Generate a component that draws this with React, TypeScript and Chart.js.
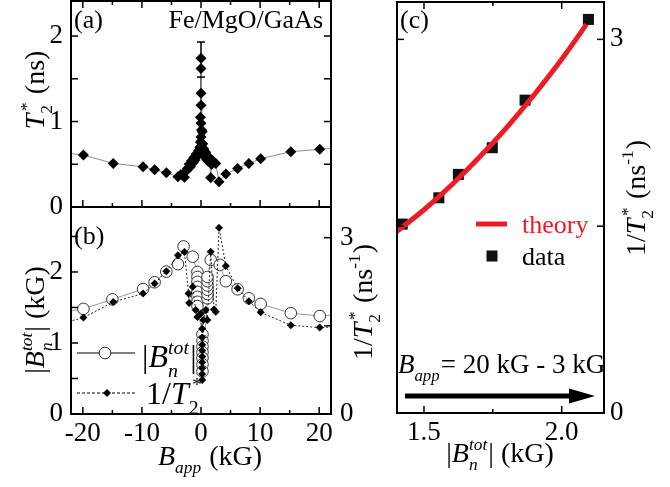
import React, { useEffect, useRef } from 'react';
import { Chart, registerables } from 'chart.js';
Chart.register(...registerables);

const SERIF = '"Liberation Serif", "Times New Roman", serif';
const RED = '#ed1c24';

// ---------------- panel (a): T2* vs B_app ----------------
const aField = [-25, -19.9, -14.85, -9.8, -7.85, -5.86, -3.9, -3.4, -2.8, -2.5, -2.3, -2.0, -1.8, -1.6, -1.3, -1.2, -1.0, -0.8, -0.6, -0.4, -0.2, 0, 0.1, -0.1, 0, 0.1, 0, -0.1, 0, 0, 0, 0, 0.2, 0.3, 0.4, 0.5, 0.7, 0.8, 1.0, 1.1, 1.3, 1.4, 1.64, 1.8, 2.0, 2.5, 3.05, 4.2, 6.2, 8.1, 10.1, 15.2, 20.1, 25];
const aT2 = [0.65, 0.608, 0.51, 0.47, 0.436, 0.40, 0.355, 0.38, 0.347, 0.42, 0.45, 0.50, 0.47, 0.54, 0.52, 0.58, 0.55, 0.62, 0.60, 0.66, 0.70, 0.65, 0.71, 0.76, 0.82, 0.90, 0.98, 1.05, 1.19, 1.33, 1.62, 1.74, 0.88, 0.74, 0.62, 0.68, 0.58, 0.64, 0.55, 0.60, 0.53, 0.57, 0.343, 0.50, 0.54, 0.51, 0.296, 0.386, 0.45, 0.51, 0.565, 0.647, 0.675, 0.70];
const aErrField = [0, 0];
const aErrT2 = [1.93, 1.0];
const aCapField = [0, 0];
const aCapT2 = [1.93, 1.52];

// ---------------- panel (b): |Bn tot| and 1/T2* vs B_app ----------------
const bBnField = [-25, -19.9, -15, -9.8, -7.85, -5.87, -3.9, -2.95, -1.4, -0.6, -0.6, -0.6, -0.6, -0.6, -0.6, -0.6, -0.6, 0.25, 0.25, 0.25, 0.25, 0.25, 0.25, 0.25, 1.1, 1.1, 1.1, 1.1, 1.1, 1.1, 1.64, 3.17, 4.2, 6.2, 8.1, 10.1, 15.2, 20.1, 25];
const bBn = [1.42, 1.48, 1.615, 1.76, 1.855, 2.005, 2.11, 2.36, 2.215, 2.0, 1.93, 1.86, 1.79, 1.72, 1.65, 1.58, 1.52, 1.12, 1.03, 0.95, 0.87, 0.79, 0.70, 0.60, 1.63, 1.69, 1.75, 1.81, 1.87, 1.93, 2.17, 2.10, 1.87, 1.756, 1.63, 1.55, 1.42, 1.38, 1.41];
const bInvField = [-25, -19.9, -14.85, -9.8, -7.85, -5.86, -3.9, -2.8, -2.1, -2.0, -1.4, -0.9, -0.6, 0, 0.2, 0.2, 0.2, 0.2, 0.2, 0.2, 0.2, 0.2, 0.2, 0.4, 0.8, 1.08, 1.64, 2.2, 2.5, 3.05, 4.2, 6.2, 8.1, 10.1, 15.2, 20.1, 25];
const bInv = [1.50, 1.64, 1.905, 2.05, 2.22, 2.43, 2.70, 2.755, 2.05, 1.89, 2.165, 1.77, 1.65, 1.71, 1.45, 1.30, 1.18, 1.08, 0.98, 0.88, 0.78, 0.68, 0.58, 1.60, 1.77, 1.60, 2.76, 1.78, 1.74, 3.17, 2.52, 2.14, 1.92, 1.73, 1.51, 1.47, 1.49];

// ---------------- panel (c): 1/T2* vs |Bn tot| ----------------
const cBn = [1.421, 1.554, 1.625, 1.748, 1.867, 2.097];
const cInv = [1.517, 1.728, 1.916, 2.13, 2.512, 3.16];
const cTheoryBn = [1.40, 1.50, 1.60, 1.70, 1.80, 1.90, 2.00, 2.09];
const cTheory = [1.455, 1.632, 1.831, 2.051, 2.292, 2.555, 2.840, 3.12];
const cArrowBn = [1.431, 2.121];
const cArrowY = 0.136;

// ---------------- ticks ----------------
const abXTicks = [-20, -15, -10, -5, 0, 5, 10, 15, 20];
const abXLabels = ['-20', '', '-10', '', '0', '', '10', '', '20'];
const abXMajor = [-20, -10, 0, 10, 20];
const aYTicks = [0, 0.5, 1, 1.5, 2];
const aYLabels = ['0', '', '1', '', '2'];
const bYTicks = [0, 0.5, 1, 1.5, 2, 2.5];
const bYLabels = ['0', '', '1', '', '2', ''];
const bY2Ticks = [0, 1.5, 3];
const bY2Labels = ['0', '', '3'];
const cXTicks = [1.5, 1.75, 2.0];
const cXLabels = ['1.5', '', '2.0'];
const cXMajor = [1.5, 2.0];
const cYTicks = [0, 1.5, 3];
const cYLabels = ['0', '', '3'];

const pts = (xs: number[], ys: number[]) => xs.map((x, i) => ({ x, y: ys[i] }));

// ---------------- rich text ----------------
type Seg = { t?: string; it?: boolean; sup?: string; sub?: string; dx?: number };
type RT = { x: number; y: number; size: number; segs: Seg[]; align?: 'left' | 'center' | 'right'; rot?: number; color?: string };
const fnt = (s: number, it?: boolean) => `${it ? 'italic ' : ''}${s}px ${SERIF}`;

function drawRT(ctx: CanvasRenderingContext2D, r: RT) {
  const size = r.size;
  const ss = size * 0.62;
  ctx.save();
  ctx.translate(r.x, r.y);
  if (r.rot) ctx.rotate(r.rot);
  ctx.fillStyle = r.color || '#000';
  ctx.textBaseline = 'alphabetic';
  ctx.textAlign = 'left';
  const widths = r.segs.map((s) => {
    if (s.t !== undefined) {
      ctx.font = fnt(size, s.it);
      return ctx.measureText(s.t).width;
    }
    let w = 0;
    if (s.sup) {
      ctx.font = fnt(ss, s.it);
      w = Math.max(w, ctx.measureText(s.sup).width + (s.dx || 0) * size);
    }
    if (s.sub) {
      ctx.font = fnt(ss, s.it);
      w = Math.max(w, ctx.measureText(s.sub).width);
    }
    return w + size * 0.04;
  });
  const total = widths.reduce((a, b) => a + b, 0);
  let x = r.align === 'center' ? -total / 2 : r.align === 'right' ? -total : 0;
  r.segs.forEach((s, i) => {
    if (s.t !== undefined) {
      ctx.font = fnt(size, s.it);
      ctx.fillText(s.t, x, 0);
    } else {
      if (s.sup) {
        ctx.font = fnt(ss, s.it);
        ctx.fillText(s.sup, x + (s.dx || 0) * size, -size * 0.42);
      }
      if (s.sub) {
        ctx.font = fnt(ss, s.it);
        ctx.fillText(s.sub, x, size * 0.3);
      }
    }
    x += widths[i];
  });
  ctx.restore();
}

type TickSpec = { scale: string; side: 'left' | 'right' | 'top' | 'bottom'; values: number[]; major?: number[] };

const makeFrame = (specs: TickSpec[]) => ({
  id: 'frameTicks',
  afterDatasetsDraw(chart: any) {
    const { ctx, chartArea: ca } = chart;
    ctx.save();
    ctx.strokeStyle = '#000';
    ctx.lineWidth = 1.5;
    for (const sp of specs) {
      const sc = chart.scales[sp.scale];
      for (const v of sp.values) {
        const p = sc.getPixelForValue(v);
        const len = !sp.major || sp.major.includes(v) ? 7 : 4;
        ctx.beginPath();
        if (sp.side === 'bottom') { ctx.moveTo(p, ca.bottom); ctx.lineTo(p, ca.bottom - len); }
        if (sp.side === 'top') { ctx.moveTo(p, ca.top); ctx.lineTo(p, ca.top + len); }
        if (sp.side === 'left') { ctx.moveTo(ca.left, p); ctx.lineTo(ca.left + len, p); }
        if (sp.side === 'right') { ctx.moveTo(ca.right, p); ctx.lineTo(ca.right - len, p); }
        ctx.stroke();
      }
    }
    ctx.lineWidth = 2;
    ctx.strokeRect(ca.left, ca.top, ca.right - ca.left, ca.bottom - ca.top);
    ctx.restore();
  },
});

const makeTexts = (items: RT[], extra?: (chart: any) => void) => ({
  id: 'richTexts',
  afterDraw(chart: any) {
    const ctx = chart.ctx as CanvasRenderingContext2D;
    if (extra) {
      ctx.save();
      extra(chart);
      ctx.restore();
    }
    items.forEach((it) => drawRT(ctx, it));
  },
});

const tickFont = { family: SERIF, size: 27 };
const TS = 28; // axis title size

const yAxis = (min: number, max: number, ticks: number[], labels: string[], width: number, position: string, padding: number) => ({
  type: 'linear',
  position,
  min,
  max,
  afterBuildTicks: (s: any) => { s.ticks = ticks.map((v) => ({ value: v })); },
  afterFit: (s: any) => { s.width = width; s.paddingTop = 0; s.paddingBottom = 0; s.paddingLeft = 0; s.paddingRight = 0; },
  grid: { display: false, drawTicks: false },
  border: { display: false },
  ticks: { autoSkip: false, padding, color: '#000', font: tickFont, callback: (_v: any, i: number) => labels[i] ?? '' },
});

const xAxis = (min: number, max: number, ticks: number[], labels: string[], height: number, padding: number) => ({
  type: 'linear',
  position: 'bottom',
  min,
  max,
  afterBuildTicks: (s: any) => { s.ticks = ticks.map((v) => ({ value: v })); },
  afterFit: (s: any) => { s.height = height; s.paddingTop = 0; s.paddingBottom = 0; s.paddingLeft = 0; s.paddingRight = 0; },
  grid: { display: false, drawTicks: false },
  border: { display: false },
  ticks: { autoSkip: false, maxRotation: 0, padding, color: '#000', font: tickFont, callback: (_v: any, i: number) => labels[i] ?? '' },
});

const base = (padding: any, scales: any) => ({
  animation: false,
  responsive: false,
  maintainAspectRatio: false,
  events: [],
  layout: { padding, autoPadding: false },
  plugins: { legend: { display: false }, tooltip: { enabled: false } },
  scales,
});

const PI2 = -Math.PI / 2;
const invTitle: Seg[] = [{ t: '1/' }, { t: 'T', it: true }, { sup: '*', sub: '2', dx: 0.1 }, { t: ' (ns' }, { sup: '-1' }, { t: ')' }];
const bnTitle: Seg[] = [{ t: '|' }, { t: 'B', it: true }, { sup: 'tot', sub: 'n', it: true }, { t: '| (kG)' }];

function cfgA(): any {
  return {
    type: 'scatter',
    data: {
      datasets: [
        { data: pts(aCapField, aCapT2), showLine: false, pointStyle: 'line', pointRadius: 4, pointBorderColor: '#000', pointBorderWidth: 1.5, order: 0 },
        { data: pts(aField, aT2), showLine: true, borderColor: '#8c8c8c', borderWidth: 1, pointStyle: 'rectRot', pointRadius: 5.5, pointBackgroundColor: '#000', pointBorderColor: '#000', pointBorderWidth: 0, order: 1 },
        { data: pts(aErrField, aErrT2), showLine: true, borderColor: '#000', borderWidth: 1.5, pointRadius: 0, order: 2 },
      ],
    },
    options: base({ left: 0, top: 1, right: 339, bottom: 280 }, {
      x: { type: 'linear', min: -22, max: 22, display: false },
      y: yAxis(0, 2.41, aYTicks, aYLabels, 71, 'left', 8),
    }),
    plugins: [
      makeFrame([
        { scale: 'x', side: 'bottom', values: abXTicks, major: abXMajor },
        { scale: 'x', side: 'top', values: abXTicks, major: abXMajor },
        { scale: 'y', side: 'left', values: aYTicks },
        { scale: 'y', side: 'right', values: aYTicks },
      ]),
      makeTexts([
        { x: 74, y: 28, size: 26, segs: [{ t: '(a)' }] },
        { x: 323, y: 28, size: 26, align: 'right', segs: [{ t: 'Fe/MgO/GaAs' }] },
        { x: 44, y: 90, size: TS, align: 'center', rot: PI2, segs: [{ t: 'T', it: true }, { sup: '*', sub: '2', dx: 0.1 }, { t: ' (ns)' }] },
      ]),
    ],
  };
}

function cfgB(): any {
  return {
    type: 'scatter',
    data: {
      datasets: [
        { data: pts(bInvField, bInv), yAxisID: 'y2', showLine: true, borderColor: '#222', borderWidth: 1, borderDash: [2, 2], pointStyle: 'rectRot', pointRadius: 4, pointBackgroundColor: '#000', pointBorderWidth: 0, order: 0 },
        { data: pts(bBnField, bBn), yAxisID: 'y', showLine: true, borderColor: '#999', borderWidth: 1, pointStyle: 'circle', pointRadius: 5.8, pointBackgroundColor: '#fff', pointBorderColor: '#333', pointBorderWidth: 1, order: 1 },
      ],
    },
    options: base({ left: 0, top: 207, right: 0, bottom: 0 }, {
      x: xAxis(-22, 22, abXTicks, abXLabels, 73, 4),
      y: yAxis(0, 2.915, bYTicks, bYLabels, 71, 'left', 8),
      y2: yAxis(0, 3.522, bY2Ticks, bY2Labels, 339, 'right', 9),
    }),
    plugins: [
      makeFrame([
        { scale: 'x', side: 'bottom', values: abXTicks, major: abXMajor },
        { scale: 'y', side: 'left', values: bYTicks },
        { scale: 'y2', side: 'right', values: bY2Ticks },
      ]),
      makeTexts([
        { x: 74, y: 244, size: 26, segs: [{ t: '(b)' }] },
        { x: 44, y: 320, size: TS, align: 'center', rot: PI2, segs: bnTitle },
        { x: 372, y: 302, size: TS, align: 'center', rot: PI2, segs: invTitle },
        { x: 210, y: 465, size: TS, align: 'center', segs: [{ t: 'B', it: true }, { sub: 'app', it: true }, { t: ' (kG)' }] },
        { x: 142, y: 367, size: 32, segs: [{ t: '|' }, { t: 'B', it: true }, { sup: 'tot', sub: 'n', it: true }, { t: '|' }] },
        { x: 146, y: 404, size: 32, segs: [{ t: '1/' }, { t: 'T', it: true }, { sup: '*', sub: '2', dx: 0.1 }] },
      ]),
      {
        id: 'legendB',
        afterDraw(chart: any) {
          const ctx = chart.ctx as CanvasRenderingContext2D;
          ctx.save();
          ctx.strokeStyle = '#000';
          ctx.lineWidth = 1;
          ctx.beginPath(); ctx.moveTo(77, 353); ctx.lineTo(135, 353); ctx.stroke();
          ctx.beginPath(); ctx.arc(105, 353, 5.8, 0, Math.PI * 2); ctx.fillStyle = '#fff'; ctx.fill(); ctx.strokeStyle = '#333'; ctx.stroke();
          ctx.setLineDash([3, 2]);
          ctx.strokeStyle = '#000';
          ctx.beginPath(); ctx.moveTo(77, 393); ctx.lineTo(137, 393); ctx.stroke();
          ctx.setLineDash([]);
          ctx.fillStyle = '#000';
          ctx.beginPath(); ctx.moveTo(107, 389); ctx.lineTo(111, 393); ctx.lineTo(107, 397); ctx.lineTo(103, 393); ctx.closePath(); ctx.fill();
          ctx.restore();
        },
      },
    ],
  };
}

function cfgC(): any {
  return {
    type: 'scatter',
    data: {
      datasets: [
        { data: pts(cTheoryBn, cTheory), showLine: true, borderColor: RED, borderWidth: 5, pointRadius: 0, cubicInterpolationMode: 'monotone', order: 0 },
        { data: pts(cBn, cInv), showLine: false, pointStyle: 'rect', pointRadius: 7.8, pointBackgroundColor: '#111', pointBorderWidth: 0, order: 1 },
      ],
    },
    options: base({ left: 397, top: 2, right: 0, bottom: 0 }, {
      x: xAxis(1.402, 2.1536, cXTicks, cXLabels, 74, 4),
      y: yAxis(0, 3.30, cYTicks, cYLabels, 66, 'right', 6),
    }),
    plugins: [
      makeFrame([
        { scale: 'x', side: 'bottom', values: cXTicks, major: cXMajor },
        { scale: 'x', side: 'top', values: cXTicks, major: cXMajor },
        { scale: 'y', side: 'right', values: cYTicks },
        { scale: 'y', side: 'left', values: cYTicks },
      ]),
      makeTexts([
        { x: 400, y: 28, size: 26, segs: [{ t: '(c)' }] },
        { x: 645, y: 198, size: TS, align: 'center', rot: PI2, segs: invTitle },
        { x: 500, y: 462, size: TS, align: 'center', segs: bnTitle },
        { x: 522, y: 233, size: 26, color: RED, segs: [{ t: 'theory' }] },
        { x: 522, y: 265, size: 26, segs: [{ t: 'data' }] },
        { x: 398, y: 373, size: 27, segs: [{ t: 'B', it: true }, { sub: 'app', it: true }, { t: '= 20 kG - 3 kG' }] },
      ], (chart: any) => {
        const ctx = chart.ctx as CanvasRenderingContext2D;
        const xs = chart.scales.x, ys = chart.scales.y;
        ctx.strokeStyle = RED; ctx.lineWidth = 5;
        ctx.beginPath(); ctx.moveTo(476, 224); ctx.lineTo(507, 224); ctx.stroke();
        ctx.fillStyle = '#111'; ctx.fillRect(486.5, 250.5, 11, 11);
        const x0 = xs.getPixelForValue(cArrowBn[0]);
        const x1 = xs.getPixelForValue(cArrowBn[1]);
        const y = ys.getPixelForValue(cArrowY);
        ctx.strokeStyle = '#000'; ctx.lineWidth = 5;
        ctx.beginPath(); ctx.moveTo(x0, y); ctx.lineTo(x1 - 20, y); ctx.stroke();
        ctx.fillStyle = '#000';
        ctx.beginPath(); ctx.moveTo(x1, y); ctx.lineTo(x1 - 26, y - 7.5); ctx.lineTo(x1 - 26, y + 7.5); ctx.closePath(); ctx.fill();
      }),
    ],
  };
}

export default function App() {
  const ra = useRef<HTMLCanvasElement>(null);
  const rb = useRef<HTMLCanvasElement>(null);
  const rc = useRef<HTMLCanvasElement>(null);
  useEffect(() => {
    const charts = [new Chart(ra.current!, cfgA()), new Chart(rb.current!, cfgB()), new Chart(rc.current!, cfgC())];
    return () => charts.forEach((c) => c.destroy());
  }, []);
  const st: React.CSSProperties = { position: 'absolute', left: 0, top: 0, width: 670, height: 487 };
  return (
    <div style={{ position: 'absolute', left: 0, top: 0, width: 670, height: 487, background: '#fff' }}>
      <canvas ref={ra} width={670} height={487} style={st} />
      <canvas ref={rb} width={670} height={487} style={st} />
      <canvas ref={rc} width={670} height={487} style={st} />
    </div>
  );
}
